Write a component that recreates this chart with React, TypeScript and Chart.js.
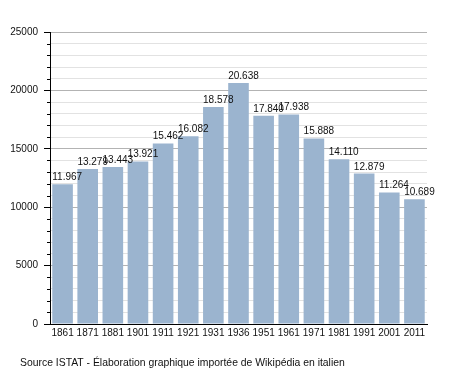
import React, { useEffect, useRef } from "react";
import { Chart, registerables } from "chart.js";

Chart.register(...registerables);

const years = ["1861", "1871", "1881", "1901", "1911", "1921", "1931", "1936", "1951", "1961", "1971", "1981", "1991", "2001", "2011"];
const population = [11967, 13279, 13443, 13921, 15462, 16082, 18578, 20638, 17840, 17938, 15888, 14110, 12879, 11264, 10689];
const caption = "Source ISTAT - Élaboration graphique importée de Wikipédia en italien";
const FONT = "'Liberation Sans', Arial, sans-serif";

function fmt(v: number): string {
  return String(v).replace(/\B(?=(\d{3})+(?!\d))/g, ".");
}

const extrasPlugin = {
  id: "extras",
  afterDatasetsDraw(chart: any) {
    const ctx = chart.ctx;
    const meta = chart.getDatasetMeta(0);
    ctx.save();
    ctx.font = `10px ${FONT}`;
    ctx.fillStyle = "#111";
    ctx.textAlign = "left";
    ctx.textBaseline = "alphabetic";
    meta.data.forEach((bar: any, i: number) => {
      ctx.fillText(fmt(population[i]), bar.x - bar.width / 2, bar.y - 4);
    });
    // minor ticks
    const ys = chart.scales.y;
    const left = chart.chartArea.left;
    ctx.strokeStyle = "#000";
    ctx.lineWidth = 1;
    for (let v = 1000; v < 25000; v += 1000) {
      if (v % 5000 === 0) continue;
      const py = Math.round(ys.getPixelForValue(v)) + 0.5;
      ctx.beginPath();
      ctx.moveTo(left - 3, py);
      ctx.lineTo(left, py);
      ctx.stroke();
    }
    // caption
    ctx.font = `10.4px ${FONT}`;
    ctx.fillStyle = "#111";
    ctx.fillText(caption, 20, 366);
    ctx.restore();
  },
};

export default function App() {
  const ref = useRef<HTMLCanvasElement | null>(null);
  useEffect(() => {
    if (!ref.current) return;
    const chart = new Chart(ref.current, {
      type: "bar",
      data: {
        labels: years,
        datasets: [
          {
            data: population,
            backgroundColor: "#9bb4cf",
            borderWidth: 0,
            barPercentage: 0.82,
            categoryPercentage: 1,
          },
        ],
      },
      options: {
        animation: false,
        responsive: false,
        devicePixelRatio: 1,
        layout: { padding: { left: 0, right: 28, top: 32, bottom: 0 } },
        plugins: { legend: { display: false }, tooltip: { enabled: false } },
        scales: {
          x: {
            grid: { display: false, drawTicks: false },
            border: { display: true, color: "#000", width: 1 },
            ticks: { color: "#111", font: { family: FONT, size: 10 }, padding: 3, maxRotation: 0, autoSkip: false },
            afterFit: (s: any) => {
              s.height = 49;
            },
          },
          y: {
            min: 0,
            max: 25000,
            grid: {
              color: (c: any) => (c.tick && c.tick.value % 5000 === 0 ? "#b3b3b3" : "#e2e2e2"),
              tickColor: (c: any) => (c.tick && c.tick.value % 5000 === 0 ? "#000" : "rgba(0,0,0,0)"),
              tickLength: 6,
            },
            border: { display: true, color: "#000", width: 1 },
            ticks: {
              stepSize: 1000,
              autoSkip: false,
              padding: 6,
              color: "#111",
              font: { family: FONT, size: 10 },
              callback: (v: any) => (Number(v) % 5000 === 0 ? String(v) : ""),
            },
            afterFit: (s: any) => {
              s.width = 50;
            },
          },
        },
      },
      plugins: [extrasPlugin],
    });
    return () => chart.destroy();
  }, []);
  return (
    <div style={{ position: "fixed", left: 0, top: 0, width: 455, height: 373, background: "#fff" }}>
      <canvas ref={ref} width={455} height={373} />
    </div>
  );
}
